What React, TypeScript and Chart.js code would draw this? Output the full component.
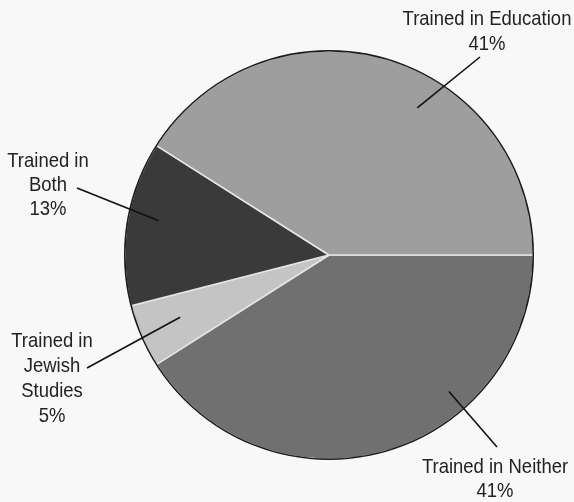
import React, { useEffect, useRef } from "react";
import { Chart, registerables } from "chart.js";

Chart.register(...registerables);

// Data (clockwise from 3 o'clock)
const categories = ["Trained in Neither", "Trained in Jewish Studies", "Trained in Both", "Trained in Education"];
const values = [41, 5, 13, 41];
const sliceColors = ["#707070", "#c4c4c4", "#3a3a3a", "#9e9e9e"];
// Label text lines (percent appended from values)
const labelLines = [
  ["Trained in Neither"],
  ["Trained in", "Jewish", "Studies"],
  ["Trained in", "Both"],
  ["Trained in Education"],
];
// Label layout: center x, first baseline y, line height
const labelPos = [
  { x: 495, y: 473, lh: 24 },
  { x: 52, y: 347, lh: 25 },
  { x: 48, y: 167, lh: 24 },
  { x: 487, y: 25, lh: 25 },
];
// Leader lines: position inside slice (fraction of slice angle, fraction of radius) and outer end
const leaderInner = [
  { t: 0.33, r: 0.89 },
  { t: 0.54, r: 0.79 },
  { t: 0.55, r: 0.85 },
  { t: 0.6, r: 0.84 },
];
const leaderOuter = [
  { x: 497, y: 447 },
  { x: 87, y: 368 },
  { x: 77, y: 188 },
  { x: 480, y: 57 },
];

const labelPlugin = {
  id: "pieLabels",
  afterDatasetsDraw(chart: any) {
    const ctx = chart.ctx;
    const meta = chart.getDatasetMeta(0);
    ctx.save();
    // outer outline
    const a0 = meta.data[0];
    ctx.beginPath();
    ctx.arc(a0.x, a0.y, a0.outerRadius, 0, Math.PI * 2);
    ctx.strokeStyle = "#1a1a1a";
    ctx.lineWidth = 1.5;
    ctx.stroke();

    meta.data.forEach((arc: any, i: number) => {
      const li = leaderInner[i];
      const ang = arc.startAngle + li.t * (arc.endAngle - arc.startAngle);
      const px = arc.x + Math.cos(ang) * arc.outerRadius * li.r;
      const py = arc.y + Math.sin(ang) * arc.outerRadius * li.r;
      ctx.beginPath();
      ctx.moveTo(px, py);
      ctx.lineTo(leaderOuter[i].x, leaderOuter[i].y);
      ctx.strokeStyle = "#111";
      ctx.lineWidth = 1.6;
      ctx.stroke();

      const lines = [...labelLines[i], `${values[i]}%`];
      const p = labelPos[i];
      ctx.fillStyle = "#222";
      ctx.font = "21px 'Liberation Sans', Arial, sans-serif";
      ctx.textAlign = "center";
      ctx.textBaseline = "alphabetic";
      lines.forEach((ln, k) => {
        const w = ctx.measureText(ln).width;
        ctx.fillText(ln, p.x, p.y + k * p.lh, w * 0.88);
      });
    });
    ctx.restore();
  },
};

export default function App() {
  const ref = useRef<HTMLCanvasElement>(null);
  useEffect(() => {
    if (!ref.current) return;
    const chart = new Chart(ref.current, {
      type: "pie",
      data: {
        labels: categories,
        datasets: [
          {
            data: values,
            backgroundColor: sliceColors,
            borderColor: "#e4e4e4",
            borderWidth: 1.5,
          },
        ],
      },
      options: {
        animation: false,
        responsive: false,
        rotation: 90,
        layout: { padding: { left: 124, right: 40, top: 50, bottom: 42 } },
        plugins: {
          legend: { display: false },
          tooltip: { enabled: false },
        },
      },
      plugins: [labelPlugin],
    });
    return () => chart.destroy();
  }, []);
  return (
    <div style={{ position: "fixed", left: 0, top: 0, width: 574, height: 502, background: "#f8f8f8" }}>
      <canvas ref={ref} width={574} height={502} style={{ width: 574, height: 502 }} />
    </div>
  );
}
